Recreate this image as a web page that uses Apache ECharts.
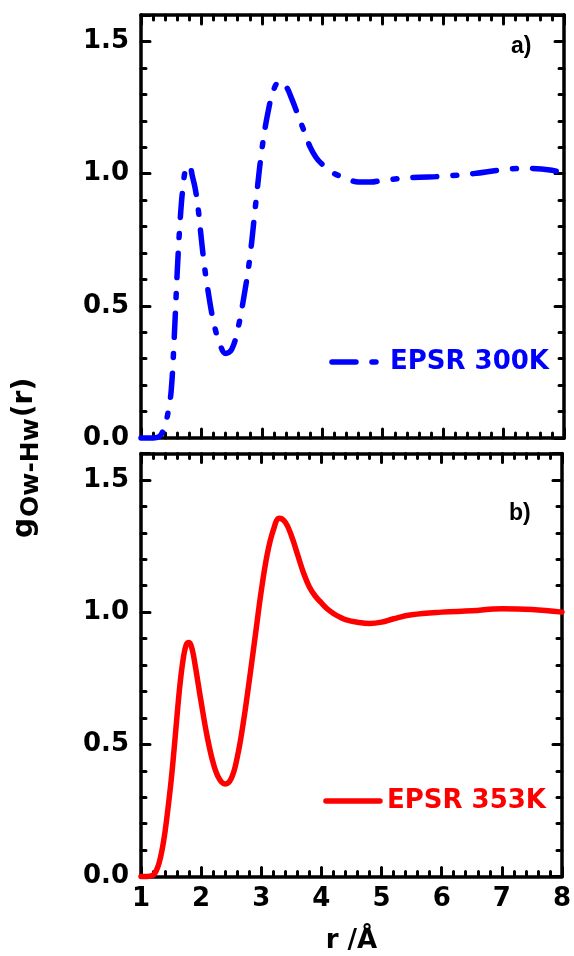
<!DOCTYPE html>
<html>
<head>
<meta charset="utf-8">
<script src="https://cdn.jsdelivr.net/npm/echarts@6/dist/echarts.min.js"></script>
<style>html,body{margin:0;padding:0;background:#fff;}#c{width:574px;height:956px;}</style>
</head>
<body>
<div id="c"></div>
<script>
// ---- data ----
var r300 = [1.0,1.1,1.2,1.3,1.35,1.4,1.45,1.5,1.55,1.6,1.65,1.7,1.75,1.8,1.85,1.9,1.95,2.0,2.05,2.1,2.2,2.3,2.4,2.5,2.6,2.7,2.8,2.9,3.0,3.1,3.2,3.3,3.4,3.5,3.6,3.7,3.8,3.9,4.0,4.1,4.2,4.3,4.4,4.6,4.8,5.0,5.5,6.0,6.5,7.0,7.4,7.8,8.0];
var g300 = [0,0,0,0.005,0.02,0.05,0.1,0.18,0.38,0.63,0.83,0.96,1.025,1.03,0.99,0.94,0.86,0.75,0.65,0.57,0.44,0.36,0.32,0.335,0.41,0.53,0.68,0.89,1.09,1.23,1.32,1.35,1.33,1.28,1.22,1.16,1.10,1.06,1.035,1.015,1.0,0.99,0.982,0.968,0.968,0.975,0.985,0.99,1.0,1.015,1.02,1.013,1.0];
var r353 = [1.0,1.1,1.2,1.25,1.3,1.35,1.4,1.45,1.5,1.55,1.6,1.65,1.7,1.75,1.8,1.85,1.9,2.0,2.1,2.2,2.3,2.4,2.5,2.6,2.7,2.8,2.9,3.0,3.1,3.2,3.3,3.4,3.5,3.6,3.7,3.8,3.9,4.0,4.1,4.2,4.3,4.4,4.6,4.8,5.0,5.2,5.5,6.0,6.5,7.0,7.5,8.0];
var g353 = [0,0,0.005,0.02,0.05,0.1,0.17,0.26,0.36,0.48,0.61,0.73,0.82,0.875,0.885,0.86,0.80,0.66,0.53,0.43,0.37,0.35,0.37,0.45,0.58,0.74,0.91,1.08,1.22,1.31,1.355,1.34,1.29,1.22,1.15,1.095,1.06,1.035,1.012,0.995,0.982,0.972,0.962,0.957,0.962,0.975,0.99,1.0,1.005,1.013,1.01,1.0];
var seriesNames = ['EPSR 300K', 'EPSR 353K'];
var panelLabels = ['a)', 'b)'];
var xTitle = 'r /\u00C5';
var yTitleMain = 'g', yTitleSub = 'Ow-Hw', yTitleEnd = '(r)';

function pairs(xs, ys) { return xs.map(function (x, i) { return [x, ys[i]]; }); }

var FONT = 'DejaVu Sans';
var AX = { color: '#000', width: 3.5 };

function xAx(grid, pos, labels) {
  return {
    type: 'value', gridIndex: grid, position: pos, min: 1, max: 8, interval: 1,
    axisLine: { show: true, onZero: false, lineStyle: AX },
    axisTick: { show: true, inside: true, length: 9, lineStyle: { color: '#000', width: 3, cap: 'round' } },
    minorTick: { show: true, splitNumber: 5, length: 5, lineStyle: { color: '#000', width: 3, cap: 'round' } },
    splitLine: { show: false },
    axisLabel: { show: labels, margin: 10, color: '#000', fontSize: 26, fontWeight: 'bold', fontFamily: FONT },
    name: labels ? xTitle : '', nameLocation: 'middle', nameGap: 52,
    nameTextStyle: { color: '#000', fontSize: 26, fontWeight: 'bold', fontFamily: FONT }
  };
}
function yAx(grid, pos, labels) {
  return {
    type: 'value', gridIndex: grid, position: pos, min: 0, max: 1.6, interval: 0.5,
    axisLine: { show: true, onZero: false, lineStyle: AX },
    axisTick: { show: true, inside: true, length: 9, lineStyle: { color: '#000', width: 3, cap: 'round' } },
    minorTick: { show: true, splitNumber: 5, length: 5, lineStyle: { color: '#000', width: 3, cap: 'round' } },
    splitLine: { show: false },
    axisLabel: { show: labels, margin: 12, showMaxLabel: false, color: '#000', fontSize: 26, fontWeight: 'bold', fontFamily: FONT,
      formatter: function (v) { return v.toFixed(1); } }
  };
}

var chart = echarts.init(document.getElementById('c'), null, { renderer: 'canvas' });

// measure title pieces for placement
var cv = document.createElement('canvas').getContext('2d');
function tw(t, size) { cv.font = 'bold ' + size + 'px "' + FONT + '"'; return cv.measureText(t).width; }
var MS = 28, SS = 25;
var w1 = tw(yTitleMain, MS), w2 = tw(yTitleSub, SS);

var option = {
  backgroundColor: '#fff',
  animation: false,
  grid: [
    { left: 141, right: 10, top: 15, height: 423, containLabel: false },
    { left: 141, right: 10, top: 453.5, height: 423, containLabel: false }
  ],
  xAxis: [xAx(0, 'bottom', false), xAx(0, 'top', false), xAx(1, 'bottom', true), xAx(1, 'top', false)],
  yAxis: [yAx(0, 'left', true), yAx(0, 'right', false), yAx(1, 'left', true), yAx(1, 'right', false)],
  legend: [
    { data: [{ name: seriesNames[0], textStyle: { color: '#0000ff' } }], right: 25, top: 349, padding: 0,
      itemWidth: 45, itemHeight: 12,
      itemStyle: { opacity: 0 },
      lineStyle: { width: 5.5, type: 'inherit', cap: 'round' },
      textStyle: { fontSize: 26, fontWeight: 'bold', fontFamily: FONT, padding: [0, 0, 0, 8] } },
    { data: [{ name: seriesNames[1], textStyle: { color: '#ff0000' } }], right: 28, top: 788, padding: 0,
      itemWidth: 54, itemHeight: 12,
      itemStyle: { opacity: 0 },
      lineStyle: { width: 5.5, cap: 'round' },
      textStyle: { fontSize: 26, fontWeight: 'bold', fontFamily: FONT, padding: [0, 0, 0, 2] } }
  ],
  series: [
    { name: seriesNames[0], type: 'line', xAxisIndex: 0, yAxisIndex: 0, data: pairs(r300, g300),
      showSymbol: false, symbol: 'circle', smooth: 0.4, clip: false,
      lineStyle: { color: '#0000ff', width: 5.5, type: [24, 16, 4, 16], cap: 'round', join: 'round' },
      itemStyle: { color: '#0000ff' } },
    { name: seriesNames[1], type: 'line', xAxisIndex: 2, yAxisIndex: 2, data: pairs(r353, g353),
      showSymbol: false, symbol: 'circle', smooth: 0.4, clip: false,
      lineStyle: { color: '#ff0000', width: 5.5, type: 'solid', cap: 'round', join: 'round' },
      itemStyle: { color: '#ff0000' } }
  ],
  graphic: [
    { type: 'text', left: 511, top: 35, style: { text: panelLabels[0], fill: '#000', font: 'bold 23px "Liberation Sans"' } },
    { type: 'text', left: 509, top: 502, style: { text: panelLabels[1], fill: '#000', font: 'bold 23px "Liberation Sans"' } },
    { type: 'group', x: 25, y: 538, rotation: Math.PI / 2, children: [
      { type: 'text', x: 0, y: 0, style: { text: yTitleMain, fill: '#000', font: 'bold ' + MS + 'px "' + FONT + '"', align: 'left', verticalAlign: 'middle' } },
      { type: 'text', x: w1 + 1, y: 6, style: { text: yTitleSub, fill: '#000', font: 'bold ' + SS + 'px "' + FONT + '"', align: 'left', verticalAlign: 'middle' } },
      { type: 'text', x: w1 + w2 + 2, y: 0, style: { text: yTitleEnd, fill: '#000', font: 'bold ' + MS + 'px "' + FONT + '"', align: 'left', verticalAlign: 'middle' } }
    ] }
  ]
};
chart.setOption(option);
</script>
</body>
</html>
